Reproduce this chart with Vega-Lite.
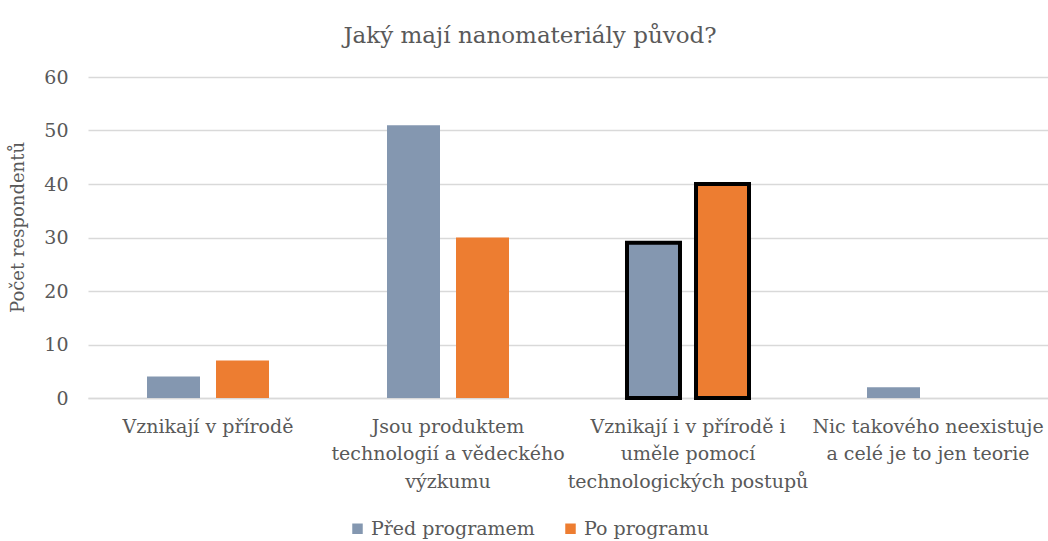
{
  "$schema": "https://vega.github.io/schema/vega-lite/v6.json",
  "width": 960,
  "height": 321,
  "autosize": "none",
  "padding": {"left": 88, "top": 77, "right": 0, "bottom": 143},
  "background": "white",
  "title": {
    "text": "Jaký mají nanomateriály původ?",
    "fontSize": 23,
    "fontWeight": "normal",
    "color": "#595959",
    "anchor": "middle",
    "frame": "group",
    "dx": -38,
    "offset": 20
  },
  "data": {
    "values": [
      {"cat": "Vznikají v přírodě", "serie": "Před programem", "pocet": 4},
      {"cat": "Vznikají v přírodě", "serie": "Po programu", "pocet": 7},
      {"cat": "Jsou produktem|technologií a vědeckého|výzkumu", "serie": "Před programem", "pocet": 51},
      {"cat": "Jsou produktem|technologií a vědeckého|výzkumu", "serie": "Po programu", "pocet": 30},
      {"cat": "Vznikají i v přírodě i|uměle pomocí|technologických postupů", "serie": "Před programem", "pocet": 29},
      {"cat": "Vznikají i v přírodě i|uměle pomocí|technologických postupů", "serie": "Po programu", "pocet": 40},
      {"cat": "Nic takového neexistuje|a celé je to jen teorie", "serie": "Před programem", "pocet": 2},
      {"cat": "Nic takového neexistuje|a celé je to jen teorie", "serie": "Po programu", "pocet": 0}
    ]
  },
  "mark": {"type": "bar"},
  "encoding": {
    "x": {
      "field": "cat",
      "type": "nominal",
      "sort": null,
      "scale": {"paddingInner": 0, "paddingOuter": 0},
      "axis": {
        "title": null,
        "labelExpr": "split(datum.label, '|')",
        "labelAngle": 0,
        "labelFontSize": 19,
        "labelColor": "#595959",
        "labelLineHeight": 27.5,
        "labelPadding": 19,
        "ticks": false,
        "domain": true,
        "domainColor": "#d9d9d9",
        "domainWidth": 1.5,
        "labelLimit": 400
      }
    },
    "xOffset": {
      "field": "serie",
      "type": "nominal",
      "sort": ["Před programem", "Po programu"],
      "scale": {"paddingInner": 0.232, "paddingOuter": 0.855}
    },
    "y": {
      "field": "pocet",
      "type": "quantitative",
      "scale": {"domain": [0, 60]},
      "axis": {
        "title": "Počet respondentů",
        "titleFontSize": 18,
        "titleFontWeight": "normal",
        "titleColor": "#595959",
        "titlePadding": 16,
        "titleY": 150,
        "values": [0, 10, 20, 30, 40, 50, 60],
        "labelFontSize": 19,
        "labelColor": "#595959",
        "labelPadding": 20,
        "ticks": false,
        "domain": false,
        "grid": true,
        "gridColor": "#d9d9d9",
        "gridWidth": 1.5
      }
    },
    "color": {
      "field": "serie",
      "type": "nominal",
      "sort": ["Před programem", "Po programu"],
      "scale": {"domain": ["Před programem", "Po programu"], "range": ["#8497B0", "#ED7D31"]},
      "legend": {
        "title": null,
        "orient": "none",
        "direction": "horizontal",
        "legendX": 260,
        "legendY": 442,
        "symbolType": "square",
        "symbolSize": 110,
        "symbolStrokeWidth": 0,
        "labelFontSize": 19,
        "labelColor": "#595959",
        "labelLimit": 400,
        "columnPadding": 26,
        "labelOffset": 4
      }
    },
    "stroke": {
      "condition": {"test": "indexof(datum.cat, 'Vznikají i') == 0", "value": "black"},
      "value": "transparent"
    },
    "strokeWidth": {"value": 4}
  },
  "config": {
    "font": "DejaVu Serif",
    "view": {"stroke": null}
  }
}
